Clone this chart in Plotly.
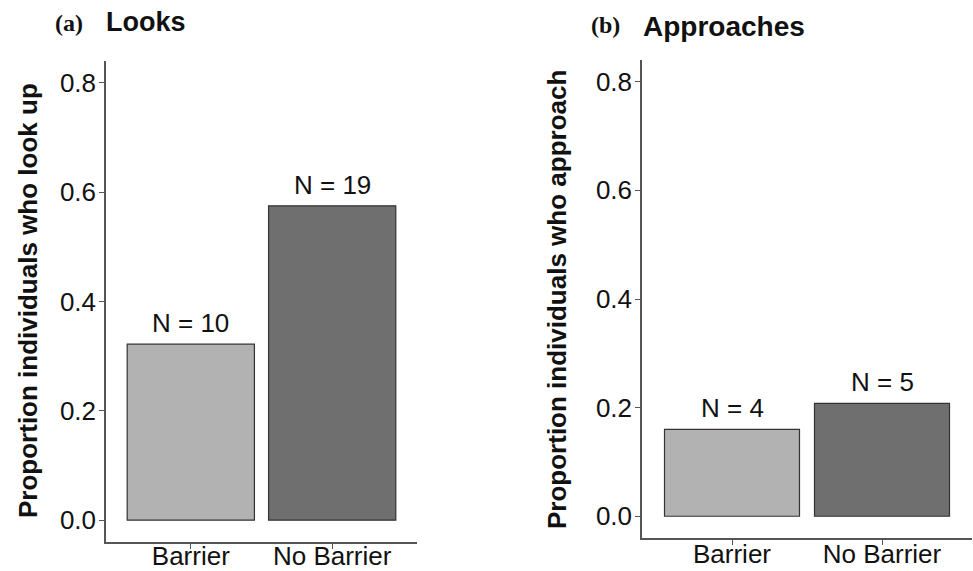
import plotly.graph_objects as go

categories = ["Barrier", "No Barrier"]
looks_values = [0.322, 0.575]
looks_labels = ["N = 10", "N = 19"]
approach_values = [0.160, 0.208]
approach_labels = ["N = 4", "N = 5"]
bar_colors = ["#b2b2b2", "#6f6f6f"]
y_ticks = [0.0, 0.2, 0.4, 0.6, 0.8]

W, H = 973, 571
FONT = "Liberation Sans, Arial, Helvetica, sans-serif"
AX_COL = "#555555"

fig = go.Figure()

fig.add_trace(go.Bar(x=categories, y=looks_values, width=0.9,
                     marker=dict(color=bar_colors, line=dict(color="#333333", width=1.2)),
                     xaxis="x", yaxis="y", showlegend=False))
fig.add_trace(go.Bar(x=categories, y=approach_values, width=0.9,
                     marker=dict(color=bar_colors, line=dict(color="#333333", width=1.2)),
                     xaxis="x2", yaxis="y2", showlegend=False))

def px_x(p):
    return p / W

def px_y(p):
    return 1 - p / H

axis_common = dict(showline=True, linecolor=AX_COL, linewidth=1.5, ticks="outside",
                   ticklen=5, tickcolor=AX_COL, tickwidth=1.2, showgrid=False, zeroline=False,
                   automargin=False,
                   tickfont=dict(family=FONT, size=26, color="#111111"), fixedrange=True)

fig.update_layout(
    template="none",
    width=W, height=H, margin=dict(l=0, r=0, t=0, b=0, autoexpand=False),
    paper_bgcolor="white", plot_bgcolor="white", bargap=0.1,
    xaxis=dict(domain=[px_x(106), px_x(417)], anchor="y", type="category",
               range=[-0.6, 1.6], ticklabelstandoff=-15, **axis_common),
    yaxis=dict(domain=[px_y(542), px_y(61)], anchor="x", range=[-0.04, 0.84],
               tickvals=y_ticks, tickformat=".1f", ticklabelstandoff=-2, **axis_common),
    xaxis2=dict(domain=[px_x(642), px_x(972)], anchor="y2", type="category",
                range=[-0.6, 1.6], ticklabelstandoff=-13, **axis_common),
    yaxis2=dict(domain=[px_y(538), px_y(60)], anchor="x2", range=[-0.04, 0.84],
                tickvals=y_ticks, tickformat=".1f", ticklabelstandoff=-2, **axis_common),
)

annotations = []
for xa, ya, vals, labs in [("x", "y", looks_values, looks_labels),
                           ("x2", "y2", approach_values, approach_labels)]:
    for c, v, t in zip(categories, vals, labs):
        annotations.append(dict(x=c, y=v, xref=xa, yref=ya, text=t, showarrow=False,
                                xanchor="center", yanchor="bottom", yshift=4,
                                font=dict(family=FONT, size=26, color="#111111")))

# y-axis titles
annotations.append(dict(x=px_x(28), y=px_y(301), xref="paper", yref="paper",
                        xanchor="center", yanchor="middle",
                        text="<b>Proportion individuals who look up</b>", textangle=-90,
                        showarrow=False, font=dict(family=FONT, size=26, color="#111111")))
annotations.append(dict(x=px_x(557), y=px_y(300), xref="paper", yref="paper",
                        xanchor="center", yanchor="middle",
                        text="<b>Proportion individuals who approach</b>", textangle=-90,
                        showarrow=False, font=dict(family=FONT, size=26, color="#111111")))

# panel titles
title_font_serif = dict(family="Liberation Serif, Times New Roman, serif", size=24, color="#111111")
title_font_sans = dict(family=FONT, size=27, color="#111111")
annotations.append(dict(x=px_x(53), y=px_y(23), xref="paper", yref="paper", xanchor="left",
                        yanchor="middle", text="<b>(a)</b>", showarrow=False, font=title_font_serif))
annotations.append(dict(x=px_x(104), y=px_y(22), xref="paper", yref="paper", xanchor="left",
                        yanchor="middle", text="<b>Looks</b>", showarrow=False, font=title_font_sans))
annotations.append(dict(x=px_x(589), y=px_y(25), xref="paper", yref="paper", xanchor="left",
                        yanchor="middle", text="<b>(b)</b>", showarrow=False, font=title_font_serif))
annotations.append(dict(x=px_x(641), y=px_y(26), xref="paper", yref="paper", xanchor="left",
                        yanchor="middle", text="<b>Approaches</b>", showarrow=False,
                        font=dict(family=FONT, size=28, color="#111111")))

fig.update_layout(annotations=annotations)

fig.write_html("out.html", config={"displayModeBar": False},
               post_script="document.body.style.margin='0px';document.body.style.overflow='hidden';")
